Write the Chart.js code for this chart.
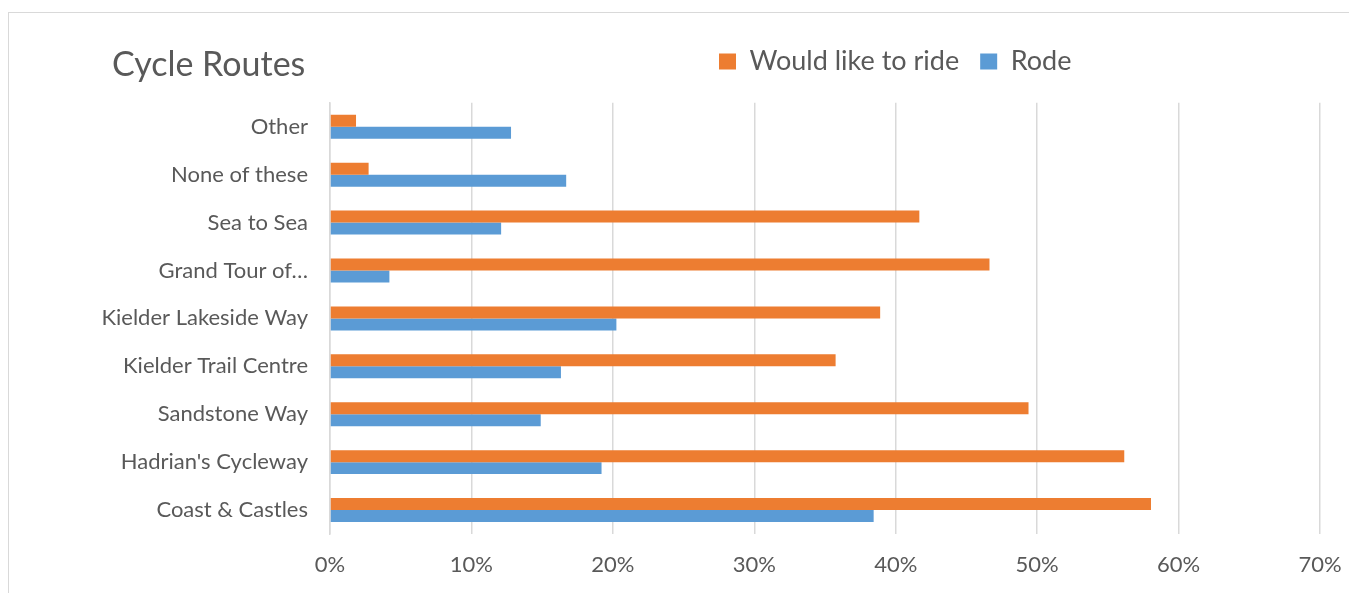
<!DOCTYPE html>
<html>
<head>
<meta charset="utf-8">
<title>Cycle Routes</title>
<script src="https://cdn.jsdelivr.net/npm/chart.js@4.4.1/dist/chart.umd.min.js"></script>
<style>
    html, body { margin: 0; padding: 0; background: #fff; overflow: hidden; }
    #frame {
        position: absolute; left: 8px; top: 12px;
        width: 1400px; height: 700px;
        border: 1px solid #d9d9d9; box-sizing: border-box;
    }
    #wrap { position: absolute; left: 0; top: 0; width: 1349px; height: 593px; }
</style>
</head>
<body>
<div id="frame"></div>
<div id="wrap"><canvas id="routesChart"></canvas></div>
<script>
const ROUTES = [
    'Other',
    'None of these',
    'Sea to Sea',
    'Grand Tour of\u2026',
    'Kielder Lakeside Way',
    'Kielder Trail Centre',
    'Sandstone Way',
    "Hadrian's Cycleway",
    'Coast & Castles'
]

const WOULD_LIKE = [1.84, 2.73, 41.67, 46.63, 38.9, 35.75, 49.39, 56.16, 58.05]
const RODE = [12.8, 16.7, 12.1, 4.2, 20.25, 16.33, 14.9, 19.2, 38.44]

const X_TICKS = [0, 10, 20, 30, 40, 50, 60, 70]

const TEXT = '#595959'
const GRID = '#d9d9d9'
const FONT = 'Lato'

// put the title and the legend in the same row, like the spreadsheet chart
const headerRow = {
    id: 'headerRow',
    afterLayout(chart) {
        chart.titleBlock.left = 112
        const lg = chart.legend
        lg.left = 698
        lg.right = 1340
        lg.top = 27
        lg.bottom = 100
    }
}

const ctx = document.getElementById('routesChart')

new Chart(ctx, {
    type: 'bar',
    data: {
        labels: ROUTES,
        datasets: [
            {
                label: 'Would like to ride',
                data: WOULD_LIKE,
                backgroundColor: '#ED7D31',
                categoryPercentage: 0.5,
                barPercentage: 1.0
            },
            {
                label: 'Rode',
                data: RODE,
                backgroundColor: '#5B9BD5',
                categoryPercentage: 0.5,
                barPercentage: 1.0
            }
        ]
    },
    options: {
        indexAxis: 'y',
        responsive: true,
        maintainAspectRatio: false,
        animation: false,
        layout: { padding: { left: 8, right: 29, top: 0, bottom: 0 } },
        plugins: {
            title: {
                display: true,
                text: 'Cycle Routes',
                align: 'start',
                color: TEXT,
                font: { family: FONT, size: 34, weight: 'normal' },
                padding: { top: 45, bottom: 16 }
            },
            legend: {
                position: 'top',
                align: 'start',
                maxHeight: 1,
                labels: {
                    color: TEXT,
                    font: { family: FONT, size: 27 },
                    boxWidth: 17,
                    boxHeight: 16,
                    padding: 21
                }
            },
            tooltip: { enabled: false }
        },
        scales: {
            x: {
                min: 0,
                max: 70,
                afterBuildTicks: (scale) => {
                    scale.ticks = X_TICKS.map(v => ({ value: v }))
                },
                afterFit: (scale) => {
                    scale.height = 59
                    scale.paddingLeft = 0
                    scale.paddingRight = 0
                },
                ticks: {
                    color: TEXT,
                    font: { family: FONT, size: 22 },
                    padding: 18,
                    callback: (v) => v + '%'
                },
                grid: { color: GRID, lineWidth: 1.5, drawTicks: false },
                border: { display: false }
            },
            y: {
                afterFit: (scale) => { scale.width = 322 },
                ticks: {
                    color: TEXT,
                    font: { family: FONT, size: 22 },
                    padding: 22
                },
                grid: { display: false, drawTicks: false },
                border: { display: true, color: GRID, width: 1.5 }
            }
        }
    },
    plugins: [headerRow]
})
</script>
</body>
</html>
